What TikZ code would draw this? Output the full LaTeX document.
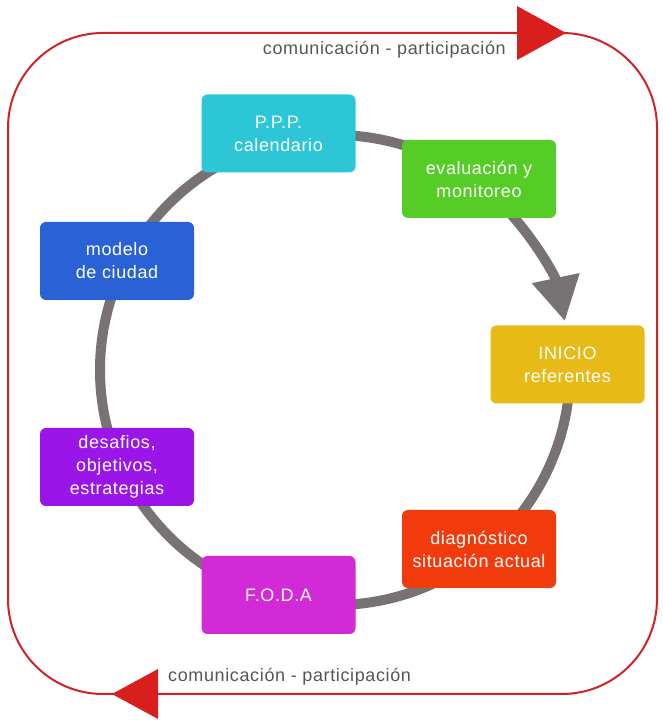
\documentclass[tikz,border=0pt]{standalone}
\usepackage{fontspec}
\setmainfont{Liberation Sans}[LetterSpace=3.5]
\usetikzlibrary{arrows.meta,calc}
\definecolor{ringgray}{HTML}{787274}
\definecolor{framered}{HTML}{CF2229}
\definecolor{tipred}{HTML}{D91E1E}
\definecolor{labelgray}{HTML}{555555}
\definecolor{cppp}{HTML}{2CC6D6}
\definecolor{ceval}{HTML}{56CC26}
\definecolor{cinicio}{HTML}{E8BA15}
\definecolor{cdiag}{HTML}{F23B0C}
\definecolor{cfoda}{HTML}{D22AD6}
\definecolor{cdesaf}{HTML}{9A16E8}
\definecolor{cmodelo}{HTML}{2A62D6}
\tikzset{
  stagebox/.style={rectangle, rounded corners=6pt, minimum width=154pt, minimum height=78pt,
    inner sep=0pt, text=white, align=center, font=\fontsize{18}{23}\selectfont},
  commlabel/.style={text=labelgray, font=\fontsize{18}{22}\selectfont, inner sep=0pt},
  ring/.style={draw=ringgray, line width=10pt},
  frame/.style={draw=framered, line width=2pt},
  redtip/.style={fill=tipred, draw=none}
}
\begin{document}
\begin{tikzpicture}[x=1pt,y=1pt]
\useasboundingbox (0,0) rectangle (662,720);
% outer frame
\draw[frame, rounded corners=95pt] (8,26) rectangle (657,687);
\fill[redtip] (517,714) -- (517,660) -- (566,687) -- cycle;
\fill[redtip] (158,51) -- (158,1) -- (112,26) -- cycle;
\node[commlabel, anchor=east] (toplbl) at (506,670) {comunicación - participación};
\node[commlabel, anchor=west] (botlbl) at (168,43) {comunicación - participación};
% ring
\coordinate (c) at (335,350);
\draw[ring] ($(c)+(0:235)$) arc[start angle=0, end angle=-315, radius=235];
\draw[ring, -{Triangle[width=46pt,length=44pt]}] ($(c)+(45:235)$) arc[start angle=45, end angle=12, radius=235];
% stages
\node[stagebox, fill=cppp] (ppp) at (278.5,586.5) {P.P.P.\\calendario};
\node[stagebox, fill=ceval] (eval) at (479,541) {evaluación y\\monitoreo};
\node[stagebox, fill=cinicio] (inicio) at (567.5,355.5) {INICIO\\referentes};
\node[stagebox, fill=cdiag] (diag) at (479,171) {diagnóstico\\situación actual};
\node[stagebox, fill=cfoda] (foda) at (278.5,125) {F.O.D.A};
\node[stagebox, fill=cdesaf] (desaf) at (117,253) {desafios,\\objetivos,\\estrategias};
\node[stagebox, fill=cmodelo] (modelo) at (117,459) {modelo\\de ciudad};
\end{tikzpicture}
\end{document}
